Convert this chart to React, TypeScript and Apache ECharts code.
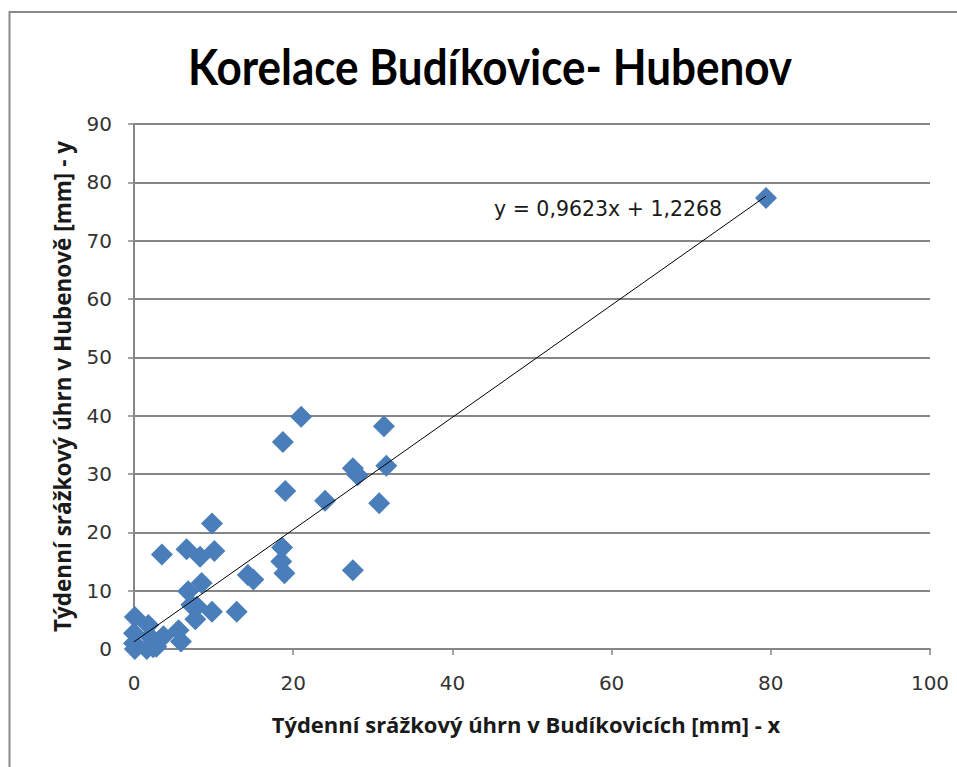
import React, { useEffect, useRef } from "react";
import * as echarts from "echarts";

const budikovice: number[] = [
  79.4, 21.0, 18.7, 31.4, 19.0, 27.5, 28.1, 31.7, 30.8, 24.0,
  9.8, 27.5, 3.5, 6.6, 8.3, 10.1, 18.6, 18.5, 18.9, 14.3,
  15.0, 12.9, 6.8, 8.5, 7.9, 9.8, 7.7, 5.6, 5.9, 3.7,
  0.1, 1.8, 0.0, 2.0, 0.0, 2.8, 0.1, 1.6, 7.2, 2.4,
];
const hubenov: number[] = [
  77.3, 39.8, 35.5, 38.2, 27.1, 31.0, 29.8, 31.4, 25.0, 25.4,
  21.5, 13.5, 16.2, 17.1, 15.8, 16.8, 17.4, 15.0, 13.0, 12.7,
  11.9, 6.4, 9.9, 11.3, 7.3, 6.4, 5.1, 3.2, 1.3, 2.2,
  5.5, 4.1, 2.7, 2.1, 1.0, 0.4, 0.0, 0.0, 7.6, 0.3,
];
const slope = 0.9623;
const intercept = 1.2268;
const xTicks = { min: 0, max: 100, interval: 20 };
const yTicks = { min: 0, max: 90, interval: 10 };
const titleText = "Korelace Budíkovice- Hubenov";
const xName = "Týdenní srážkový úhrn v Budíkovicích [mm] - x";
const yName = "Týdenní srážkový úhrn v Hubenově [mm] - y";
const equationText = "y = 0,9623x + 1,2268";

export default function App() {
  const ref = useRef<HTMLDivElement>(null);
  useEffect(() => {
    if (!ref.current) return;
    const chart = echarts.init(ref.current, undefined, { renderer: "svg" });
    const points = budikovice.map((x, i) => [x, hubenov[i]]);
    const xMin = Math.min(...budikovice);
    const xMax = Math.max(...budikovice);
    const trend = [
      [xMin, slope * xMin + intercept],
      [xMax, slope * xMax + intercept],
    ];
    const titleFont = "Lato, 'Open Sans', sans-serif";
    const nameFont = "'Open Sans', Lato, sans-serif";
    const numFont = "'DejaVu Sans', sans-serif";
    chart.setOption({
      animation: false,
      backgroundColor: "#ffffff",
      grid: { left: 134, top: 124, width: 796, height: 525, containLabel: false },
      xAxis: {
        type: "value",
        min: xTicks.min,
        max: xTicks.max,
        interval: xTicks.interval,
        name: xName,
        nameLocation: "middle",
        nameGap: 64,
        nameTextStyle: { fontFamily: nameFont, fontSize: 22, fontWeight: "bold", color: "#1a1a1a", padding: [0, 12, 0, 0] },
        axisLine: { show: true, lineStyle: { color: "#868686", width: 2 } },
        axisTick: { show: true, length: 6, lineStyle: { color: "#868686", width: 1.5 } },
        axisLabel: { fontFamily: numFont, fontSize: 20, color: "#333", margin: 24 },
        splitLine: { show: false },
      },
      yAxis: {
        type: "value",
        min: yTicks.min,
        max: yTicks.max,
        interval: yTicks.interval,
        name: yName,
        nameLocation: "middle",
        nameRotate: 90,
        nameGap: 60,
        nameTextStyle: { fontFamily: nameFont, fontSize: 22.5, fontWeight: "bold", color: "#1a1a1a" },
        axisLine: { show: true, lineStyle: { color: "#868686", width: 2 } },
        axisTick: { show: true, length: 6, lineStyle: { color: "#868686", width: 1.5 } },
        axisLabel: { fontFamily: numFont, fontSize: 20, color: "#333", margin: 22 },
        splitLine: { show: true, lineStyle: { color: "#868686", width: 2 } },
      },
      graphic: [
        {
          type: "rect",
          shape: { x: 9.5, y: 12, width: 1200, height: 1200 },
          style: { fill: "none", stroke: "#8a8a8a", lineWidth: 2 },
          silent: true,
        },
        {
          type: "text",
          x: 490,
          y: 65,
          scaleY: 1.14,
          style: {
            text: titleText,
            fontFamily: titleFont,
            fontSize: 44,
            fontWeight: "bold",
            fill: "#000",
            align: "center",
            verticalAlign: "middle",
          },
        },
        {
          type: "text",
          x: 494,
          y: 209,
          style: {
            text: equationText,
            fontFamily: numFont,
            fontSize: 20.5,
            fill: "#1a1a1a",
            align: "left",
            verticalAlign: "middle",
          },
        },
      ],
      series: [
        {
          type: "scatter",
          data: points,
          symbol: "diamond",
          symbolSize: 22,
          itemStyle: { color: "#4A7EBB", opacity: 1 },
          z: 2,
        },
        {
          type: "line",
          data: trend,
          symbol: "none",
          lineStyle: { color: "#000", width: 1 },
          z: 3,
        },
      ],
    });
    return () => chart.dispose();
  }, []);
  return <div ref={ref} style={{ position: "fixed", left: 0, top: 0, width: 957, height: 767 }} />;
}
